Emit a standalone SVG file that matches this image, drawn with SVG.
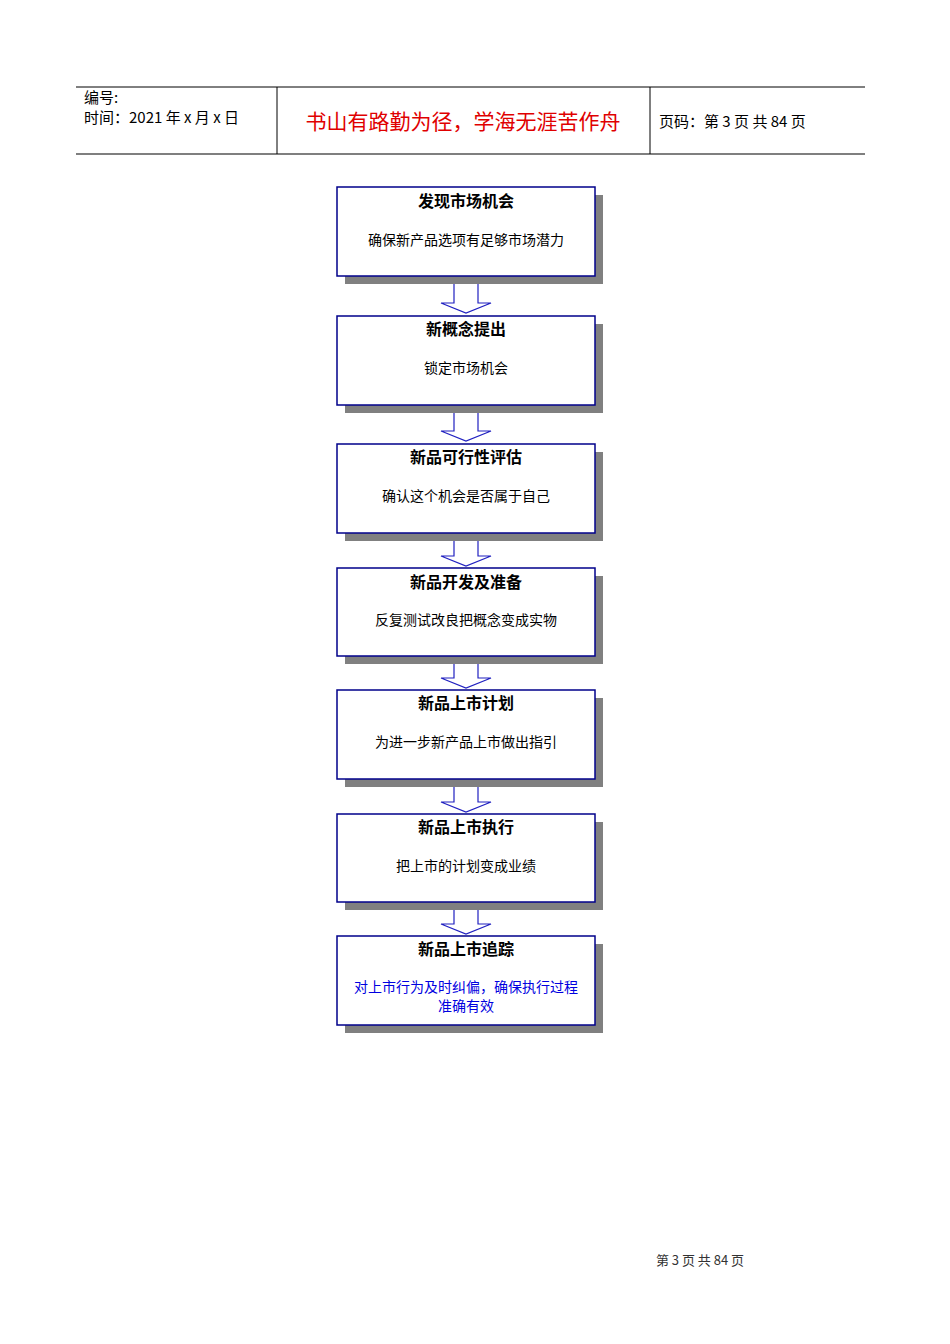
<svg xmlns="http://www.w3.org/2000/svg" width="950" height="1344" viewBox="0 0 950 1344">
<style>
text{font-family:"Noto Sans CJK SC","Liberation Sans",sans-serif;text-anchor:middle}
.box{fill:#fff;stroke:#00008b;stroke-width:1.5}
.sh{fill:#808080}
.t{font-size:16px;font-weight:bold;fill:#000}
.s{font-size:14px;fill:#000}
.arr{fill:#fff;stroke:#2020c0;stroke-width:1.2}
.h{font-size:15px;fill:#000;text-anchor:start}
</style>
<rect width="950" height="1344" fill="#fff"/>
<g id="header">
<line x1="76" y1="87" x2="865" y2="87" stroke="#000"/>
<line x1="76" y1="154" x2="865" y2="154" stroke="#555" stroke-width="1.5"/>
<line x1="277" y1="87" x2="277" y2="154" stroke="#000"/>
<line x1="650" y1="87" x2="650" y2="154" stroke="#000"/>
<text class="h" x="84" y="103">编号:</text>
<text class="h" x="84" y="123">时间：2021 年 x 月 x 日</text>
<text x="463" y="129" style="font-size:21px;fill:#e00000">书山有路勤为径，学海无涯苦作舟</text>
<text class="h" x="659" y="127">页码：第 3 页  共 84 页</text>
</g>
<g id="connectors">
<path class="arr" d="M454,280 H478 V303 H491 L466,313 L441,303 H454 Z"/>
<path class="arr" d="M454,409 H478 V431 H491 L466,441 L441,431 H454 Z"/>
<path class="arr" d="M454,537 H478 V556 H491 L466,566 L441,556 H454 Z"/>
<path class="arr" d="M454,660 H478 V678 H491 L466,688 L441,678 H454 Z"/>
<path class="arr" d="M454,783 H478 V802 H491 L466,812 L441,802 H454 Z"/>
<path class="arr" d="M454,906 H478 V924 H491 L466,934 L441,924 H454 Z"/>
</g>
<g id="n1"><rect class="sh" x="345" y="195" width="258" height="89"/><rect class="box" x="337" y="187" width="258" height="89"/><text class="t" x="466" y="207">发现市场机会</text><text class="s" x="466" y="245">确保新产品选项有足够市场潜力</text></g>
<g id="n2"><rect class="sh" x="345" y="324" width="258" height="89"/><rect class="box" x="337" y="316" width="258" height="89"/><text class="t" x="466" y="335">新概念提出</text><text class="s" x="466" y="373">锁定市场机会</text></g>
<g id="n3"><rect class="sh" x="345" y="452" width="258" height="89"/><rect class="box" x="337" y="444" width="258" height="89"/><text class="t" x="466" y="463">新品可行性评估</text><text class="s" x="466" y="501">确认这个机会是否属于自己</text></g>
<g id="n4"><rect class="sh" x="345" y="576" width="258" height="88"/><rect class="box" x="337" y="568" width="258" height="88"/><text class="t" x="466" y="588">新品开发及准备</text><text class="s" x="466" y="625">反复测试改良把概念变成实物</text></g>
<g id="n5"><rect class="sh" x="345" y="698" width="258" height="89"/><rect class="box" x="337" y="690" width="258" height="89"/><text class="t" x="466" y="709">新品上市计划</text><text class="s" x="466" y="747">为进一步新产品上市做出指引</text></g>
<g id="n6"><rect class="sh" x="345" y="822" width="258" height="88"/><rect class="box" x="337" y="814" width="258" height="88"/><text class="t" x="466" y="833">新品上市执行</text><text class="s" x="466" y="871">把上市的计划变成业绩</text></g>
<g id="n7"><rect class="sh" x="345" y="944" width="258" height="89"/><rect class="box" x="337" y="936" width="258" height="89"/><text class="t" x="466" y="955">新品上市追踪</text><text class="s" x="466" y="992" fill="#0000e0" style="fill:#0000e0">对上市行为及时纠偏，确保执行过程</text><text class="s" x="466" y="1011" style="fill:#0000e0">准确有效</text></g>
<text x="700" y="1265" style="font-size:13px;fill:#333;font-family:'Noto Sans CJK SC',serif">第 3 页 共 84 页</text>
</svg>
